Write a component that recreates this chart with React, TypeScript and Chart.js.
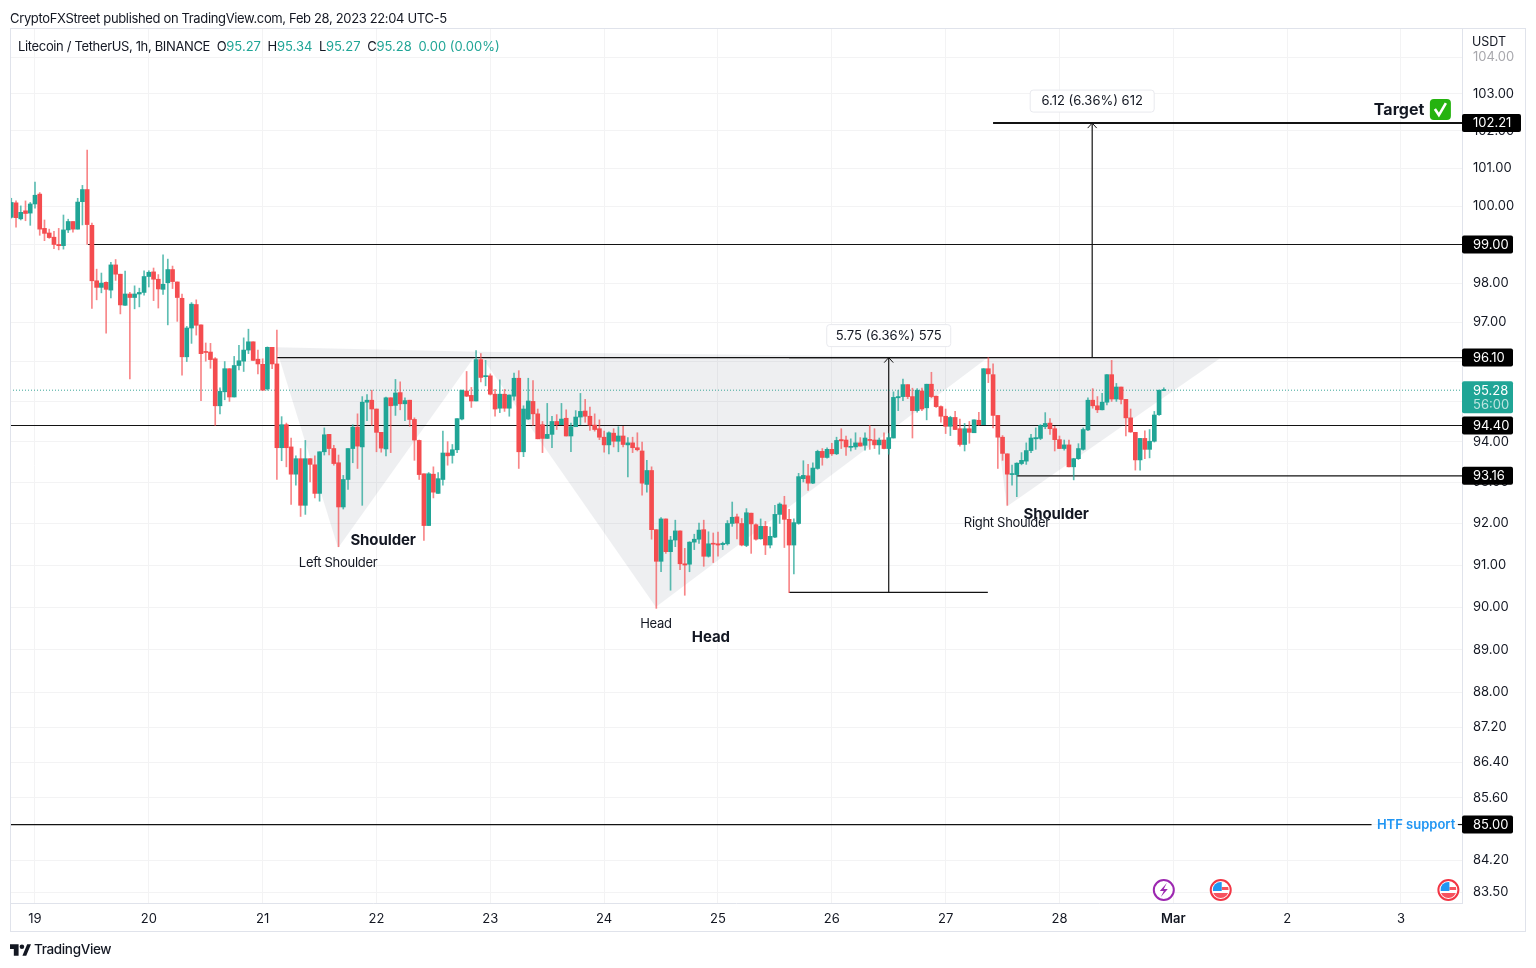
import { useEffect, useRef } from "react";
import Chart from "chart.js/auto";

const FONT = "Inter, 'Noto Sans', sans-serif";
const UP = "#20a596";
const DOWN = "#f44c4f";
const UP_WICK = "rgba(32,165,150,0.72)";
const DOWN_WICK = "rgba(244,76,79,0.68)";

// hourly candles, first one is 5h before Feb 19 00:00
const firstHour = -5;
const opens = [
  99.71, 100.09, 99.67, 99.88, 99.82, 100.06, 100.32, 99.42, 99.30, 99.19, 99.00, 98.97, 99.38, 99.60, 99.40, 100.12, 100.44, 99.50, 98.06, 97.89, 98.02, 97.82, 98.47, 98.23, 97.43, 97.72, 97.63, 97.72, 97.76, 98.17, 98.29, 98.10,
  97.84, 98.01, 98.35, 98.03, 97.61, 96.12, 96.85, 97.45, 96.93, 96.25, 96.24, 96.07, 94.89, 95.24, 95.82, 95.11, 95.90, 96.01, 96.29, 96.50, 96.06, 95.93, 95.31, 96.36, 95.94, 93.85, 94.42, 93.87, 93.20,
  93.58, 92.44, 93.58, 93.43, 92.73, 93.75, 94.18, 93.83, 93.48, 92.40, 93.07, 93.83, 94.36, 93.87, 94.98, 95.03, 94.81, 94.23, 93.82, 95.09, 94.90, 95.22, 94.94, 95.03, 94.55, 94.03, 93.21, 91.95, 93.20, 92.73,
  93.07, 93.72, 93.66, 93.80, 94.56, 95.26, 95.15, 95.01, 96.05, 95.62, 95.64, 95.18, 94.83, 95.18, 94.83, 95.13, 95.58, 93.75, 94.56, 95.00, 94.69, 94.42, 94.08, 94.18, 94.50, 94.42, 94.58, 94.14, 94.37, 94.61,
  94.76, 94.63, 94.41, 94.32, 94.11, 93.92, 94.21, 94.01, 94.14, 93.92, 93.97, 93.85, 93.77, 92.95, 93.29, 91.85, 91.09, 92.11, 91.32, 91.60, 91.82, 91.03, 91.02, 91.55, 91.62, 91.85, 91.21, 91.52, 91.51,
  91.49, 91.51, 92.00, 92.16, 92.00, 91.47, 92.25, 91.97, 91.63, 91.93, 91.48, 91.67, 92.22, 92.45, 92.10, 91.48, 92.00, 93.09, 93.16, 92.98, 93.34, 93.76, 93.61, 93.81, 93.70, 94.05, 94.04, 93.86, 93.87, 93.97,
  93.91, 94.05, 94.04, 93.92, 94.04, 93.83, 94.09, 95.09, 95.12, 95.42, 95.12, 94.77, 95.26, 94.84, 95.43, 95.13, 94.87, 94.63, 94.38, 94.60, 94.32, 93.93, 94.32, 94.22, 94.53, 94.42, 95.82, 95.67, 94.65, 94.11, 93.70,
  93.19, 93.19, 93.46, 93.52, 93.78, 94.07, 94.08, 94.37, 94.46, 94.32, 94.05, 93.83, 93.92, 93.38, 93.58, 93.81, 94.29, 95.03, 94.89, 94.79, 94.98, 95.67, 95.06, 95.36, 95.05, 94.59, 94.23, 93.55, 94.08, 93.81, 94.01, 94.67, 95.27,
];
const highs = [
  100.21, 100.14, 100.01, 100.14, 100.10, 100.64, 100.36, 99.64, 99.40, 99.34, 99.42, 99.77, 99.66, 99.60, 100.21, 100.55, 101.49, 99.56, 98.36, 98.26, 98.03, 98.54, 98.61, 98.23, 98.31, 97.76, 97.93, 97.87, 98.32, 98.32, 98.39, 98.22,
  98.73, 98.62, 98.44, 98.03, 97.72, 96.89, 97.50, 97.57, 96.93, 96.47, 96.46, 96.10, 95.34, 96.00, 95.82, 96.13, 96.41, 96.60, 96.82, 96.50, 96.29, 96.07, 96.37, 96.36, 96.80, 94.62, 94.46, 94.09, 93.65,
  93.83, 94.03, 93.58, 93.65, 93.75, 94.34, 94.18, 93.91, 93.67, 93.17, 93.83, 94.42, 94.69, 95.12, 95.17, 95.28, 94.81, 94.23, 95.11, 95.09, 95.55, 95.49, 95.09, 95.03, 94.59, 94.04, 93.21, 93.24, 93.38, 93.24,
  94.26, 94.00, 93.93, 94.57, 95.28, 95.75, 95.35, 96.28, 96.20, 96.03, 95.69, 95.30, 95.54, 95.30, 95.16, 95.71, 95.77, 94.89, 95.58, 95.52, 94.81, 94.50, 94.95, 94.63, 94.67, 94.95, 94.79, 94.46, 94.77, 95.20,
  95.05, 94.86, 94.69, 94.54, 94.26, 94.24, 94.32, 94.37, 94.38, 94.10, 94.11, 94.22, 93.99, 93.54, 93.38, 91.85, 92.14, 92.11, 91.69, 92.08, 91.82, 91.40, 91.56, 91.74, 92.01, 92.08, 91.80, 91.77, 91.79,
  91.55, 92.07, 92.52, 92.23, 92.12, 92.36, 92.25, 91.99, 92.11, 92.05, 91.91, 92.44, 92.50, 92.66, 92.34, 92.11, 93.22, 93.53, 93.44, 93.48, 93.79, 93.83, 93.85, 93.96, 94.11, 94.32, 94.14, 94.07, 94.22, 94.10,
  94.22, 94.40, 94.32, 94.09, 94.22, 94.20, 95.24, 95.28, 95.56, 95.42, 95.33, 95.32, 95.33, 95.43, 95.73, 95.13, 94.89, 94.81, 94.63, 94.75, 94.56, 94.45, 94.50, 94.54, 94.73, 95.82, 96.10, 95.94, 94.65, 94.15, 93.70,
  93.42, 93.48, 93.73, 93.97, 94.18, 94.34, 94.42, 94.72, 94.57, 94.38, 94.14, 94.04, 94.04, 93.59, 93.95, 94.34, 95.09, 95.32, 95.12, 95.20, 95.67, 96.03, 95.45, 95.36, 95.05, 94.81, 94.23, 94.08, 94.27, 94.30, 94.75, 95.28, 95.34,
];
const lows = [
  99.69, 99.45, 99.64, 99.62, 99.50, 99.95, 99.24, 99.10, 99.16, 98.89, 98.86, 98.88, 99.31, 99.32, 99.40, 99.51, 99.00, 97.35, 97.57, 97.75, 96.72, 97.62, 98.07, 97.21, 97.43, 95.56, 97.34, 97.39, 97.69, 97.90, 97.55, 97.36,
  97.71, 96.93, 97.86, 97.02, 95.66, 96.00, 96.46, 96.67, 95.02, 96.01, 95.83, 94.40, 94.69, 95.04, 95.00, 95.11, 95.79, 95.75, 96.20, 96.03, 95.69, 95.28, 95.28, 95.82, 93.07, 93.53, 93.38, 92.46, 92.93,
  92.17, 92.22, 93.01, 92.62, 92.54, 93.67, 93.67, 93.42, 91.44, 92.35, 92.83, 93.48, 93.34, 92.44, 94.52, 94.40, 93.75, 93.74, 93.65, 93.73, 94.65, 94.79, 94.52, 94.38, 93.54, 93.07, 91.59, 91.95, 92.62, 92.73,
  92.93, 93.42, 93.47, 93.73, 94.54, 95.12, 94.85, 95.01, 95.49, 95.39, 95.16, 94.63, 94.72, 94.75, 94.63, 95.03, 93.34, 93.63, 94.55, 94.40, 94.07, 93.73, 94.08, 93.85, 94.30, 94.42, 94.14, 93.75, 94.37, 94.42,
  94.48, 94.28, 94.26, 94.05, 93.74, 93.70, 93.87, 93.75, 93.87, 93.13, 93.73, 93.77, 92.69, 92.76, 91.62, 89.97, 90.84, 91.28, 90.40, 91.44, 90.89, 90.28, 90.84, 91.37, 91.52, 90.97, 91.19, 91.06, 91.21,
  91.37, 91.48, 91.93, 91.63, 91.46, 91.44, 91.28, 91.60, 91.62, 91.25, 91.41, 91.66, 92.00, 91.42, 90.34, 90.79, 91.98, 93.01, 92.80, 92.97, 93.32, 93.42, 93.59, 93.66, 93.68, 93.83, 93.66, 93.77, 93.81, 93.89,
  93.79, 93.81, 93.83, 93.69, 93.82, 93.69, 94.09, 94.77, 95.02, 95.07, 94.09, 94.73, 94.77, 94.54, 95.09, 94.85, 94.48, 94.20, 94.15, 94.30, 93.89, 93.77, 93.96, 94.22, 94.40, 94.42, 95.47, 94.34, 93.34, 93.54, 92.44,
  92.93, 92.65, 93.43, 93.44, 93.73, 93.81, 94.05, 94.32, 94.18, 93.77, 93.83, 93.79, 93.38, 93.06, 93.56, 93.79, 94.27, 94.83, 94.72, 94.79, 94.91, 95.00, 95.00, 94.94, 94.14, 94.23, 93.30, 93.30, 93.58, 93.60, 93.99, 94.65, 95.27,
];
const closes = [
  100.10, 99.70, 99.84, 99.81, 100.06, 100.29, 99.40, 99.29, 99.18, 99.00, 98.97, 99.38, 99.60, 99.40, 100.11, 100.44, 99.52, 98.06, 97.89, 98.00, 97.84, 98.47, 98.23, 97.44, 97.72, 97.63, 97.72, 97.76, 98.17, 98.28, 98.10, 97.85,
  97.97, 98.35, 98.04, 97.63, 96.12, 96.85, 97.46, 96.92, 96.20, 96.23, 96.05, 94.89, 95.25, 95.82, 95.11, 95.90, 96.02, 96.29, 96.50, 96.03, 95.94, 95.28, 96.36, 95.94, 93.85, 94.42, 93.85, 93.20, 93.58,
  92.44, 93.58, 93.44, 92.73, 93.75, 94.17, 93.83, 93.46, 92.40, 93.07, 93.83, 94.36, 93.89, 94.98, 95.03, 94.81, 94.23, 93.84, 95.09, 94.89, 95.21, 94.94, 95.02, 94.55, 94.04, 93.19, 91.95, 93.21, 92.76, 93.09,
  93.72, 93.65, 93.80, 94.57, 95.28, 95.13, 95.01, 96.05, 95.60, 95.64, 95.18, 94.81, 95.18, 94.83, 95.16, 95.58, 93.75, 94.81, 95.01, 94.69, 94.07, 94.08, 94.18, 94.50, 94.42, 94.56, 94.14, 94.37, 94.61, 94.75,
  94.63, 94.41, 94.30, 94.11, 93.92, 94.22, 94.01, 94.14, 93.93, 93.97, 93.85, 93.80, 92.98, 93.29, 91.85, 91.09, 92.11, 91.32, 91.60, 91.82, 91.03, 91.00, 91.55, 91.62, 91.84, 91.21, 91.51, 91.50, 91.48,
  91.52, 92.00, 92.15, 92.01, 91.48, 92.26, 91.99, 91.62, 91.93, 91.48, 91.69, 92.22, 92.47, 92.10, 91.48, 92.02, 93.14, 93.17, 92.98, 93.35, 93.76, 93.61, 93.81, 93.70, 94.03, 94.02, 93.87, 93.88, 93.97, 93.89,
  94.09, 94.03, 93.92, 94.04, 93.83, 94.10, 95.10, 95.12, 95.42, 95.12, 94.77, 95.28, 94.81, 95.43, 95.12, 94.87, 94.63, 94.38, 94.60, 94.30, 93.93, 94.32, 94.23, 94.54, 94.42, 95.82, 95.69, 94.65, 94.11, 93.71, 93.20,
  93.21, 93.47, 93.54, 93.78, 94.09, 94.10, 94.40, 94.45, 94.32, 94.05, 93.83, 93.92, 93.38, 93.58, 93.83, 94.30, 95.03, 94.89, 94.79, 94.98, 95.67, 95.06, 95.36, 95.05, 94.59, 94.24, 93.55, 94.08, 93.81, 94.01, 94.66, 95.28, 95.28,
];

// axes
const priceTicks = [104, 103, 102, 101, 100, 99, 98, 97, 96, 95, 94, 93, 92, 91, 90, 89, 88, 87.2, 86.4, 85.6, 85, 84.2, 83.5];
const dayTicks = [0, 24, 48, 72, 96, 120, 144, 168, 192, 216, 240, 264, 288];
const dayLabels = ["19", "20", "21", "22", "23", "24", "25", "26", "27", "28", "Mar", "2", "3"];
const xMin = -5.27;
const xMax = 300.87;
const yMin = 83.265;
const yMax = 104.797;

// drawings: horizontal levels and their price tags
const levelPrices = [102.21, 99, 96.1, 94.4, 93.16, 85];
const levelStarts = [202, 11.2, 51, xMin, 207, xMin];
const levelEnds = [xMax, xMax, xMax, xMax, xMax, 281.8];
const levelWidths = [2, 1.2, 1.2, 1.2, 1.2, 1.2];
const lastPrice = 95.28;

// triangles of the head and shoulders
const leftShoulder = [[50.8, 96.36], [63.9, 91.41], [93.4, 96.25]];
const headShape = [[93.4, 96.25], [130.9, 90], [200.9, 96.1]];
const rightShoulder = [[200.9, 96.1], [204.9, 92.41], [249.8, 96.08]];

// measure tools: hour of arrow, from price, to price, label, extent of base
const rangeHours = [180, 222.9];
const rangeFrom = [90.35, 96.09];
const rangeTo = [96.1, 102.21];
const rangeLabels = ["5.75 (6.36%) 575", "6.12 (6.36%) 612"];
const eventHours = [238, 250, 298];

const notes: [string, number, number, boolean][] = [
  ["Left Shoulder", 63.9, 91.04, false],
  ["Shoulder", 73.4, 91.58, true],
  ["Head", 130.9, 89.6, false],
  ["Head", 142.5, 89.28, true],
  ["Right Shoulder", 204.9, 92.0, false],
  ["Shoulder", 215.3, 92.22, true],
];

const hours = opens.map((_, i) => firstHour + i);
const candleColors = opens.map((o, i) => (closes[i] >= o ? UP : DOWN));
const wickColors = opens.map((o, i) => (closes[i] >= o ? UP_WICK : DOWN_WICK));

const toPoints = (pts: number[][]) => pts.map(([x, y]) => ({ x, y }));

function lineSet(data: { x: number; y: number }[], width: number, extra: object = {}) {
  return {
    type: "line",
    data,
    borderColor: "#131313",
    borderWidth: width,
    pointRadius: 0,
    fill: false,
    tension: 0,
    order: 5,
    ...extra,
  };
}

function triangleSet(pts: number[][]) {
  return {
    type: "line",
    data: toPoints([...pts, pts[0]]),
    borderWidth: 0,
    borderColor: "transparent",
    backgroundColor: "rgba(120,130,150,0.13)",
    pointRadius: 0,
    fill: "shape",
    tension: 0,
    order: 10,
  };
}

function roundBox(ctx: CanvasRenderingContext2D, x: number, y: number, w: number, h: number, r: number) {
  ctx.beginPath();
  ctx.roundRect(x, y, w, h, r);
  ctx.fill();
}

const overlay = {
  id: "overlay",
  afterDraw(chart: any) {
    const { ctx, scales, chartArea } = chart;
    const px = (h: number) => scales.x.getPixelForValue(h);
    const py = (p: number) => scales.y.getPixelForValue(p);
    ctx.save();

    // outer frame
    ctx.strokeStyle = "#e0e3eb";
    ctx.lineWidth = 1;
    ctx.strokeRect(10.5, 28.5, 1515, 903);

    // notes on the pattern
    ctx.textAlign = "center";
    ctx.textBaseline = "middle";
    notes.forEach(([text, h, p, bold]) => {
      ctx.font = bold ? `700 15px ${FONT}` : `400 13px ${FONT}`;
      ctx.letterSpacing = bold ? "-0.1px" : "-0.3px";
      ctx.fillStyle = "#131722";
      ctx.fillText(text, px(h), py(p));
    });
    ctx.letterSpacing = "0px";

    // measure tools
    rangeHours.forEach((h, i) => {
      const x = px(h);
      const top = py(rangeTo[i]);
      ctx.strokeStyle = "#131313";
      ctx.lineWidth = 1;
      ctx.beginPath();
      ctx.moveTo(x - 4.5, top + 5);
      ctx.lineTo(x, top);
      ctx.lineTo(x + 4.5, top + 5);
      ctx.stroke();
      ctx.fillStyle = "#fff";
      ctx.strokeStyle = "#e8e9ee";
      ctx.beginPath();
      ctx.roundRect(x - 62, top - 33, 124, 22, 3);
      ctx.fill();
      ctx.stroke();
      ctx.fillStyle = "#131722";
      ctx.font = `400 13px ${FONT}`;
      ctx.fillText(rangeLabels[i], x, top - 22);
    });

    // Target with check mark
    const ty = py(102.56);
    ctx.fillStyle = "#131722";
    ctx.font = `700 16px ${FONT}`;
    ctx.fillText("Target", px(287.6), ty + 0.5);
    const bx = px(294.1);
    ctx.fillStyle = "#25b30f";
    roundBox(ctx, bx, ty - 11, 21, 21, 4);
    ctx.strokeStyle = "#fff";
    ctx.lineWidth = 2.6;
    ctx.beginPath();
    ctx.moveTo(bx + 5, ty - 1);
    ctx.lineTo(bx + 9, ty + 5);
    ctx.lineTo(bx + 16, ty - 7);
    ctx.stroke();

    ctx.fillStyle = "#2196f3";
    ctx.font = `600 13px ${FONT}`;
    ctx.fillText("HTF support", px(291.2), py(85) + 1);

    // event badges
    const ey = chartArea.bottom - 13;
    eventHours.forEach((h, i) => {
      const x = px(h);
      ctx.lineWidth = 2;
      ctx.fillStyle = "#fff";
      ctx.strokeStyle = i === 0 ? "#9c27b0" : "#f23645";
      ctx.beginPath();
      ctx.arc(x, ey, 10, 0, Math.PI * 2);
      ctx.fill();
      ctx.stroke();
      if (i === 0) {
        ctx.fillStyle = "#9c27b0";
        ctx.beginPath();
        ctx.moveTo(x + 3, ey - 7);
        ctx.lineTo(x - 4, ey + 1);
        ctx.lineTo(x, ey + 1);
        ctx.lineTo(x - 3, ey + 7);
        ctx.lineTo(x + 4, ey - 1);
        ctx.lineTo(x, ey - 1);
        ctx.closePath();
        ctx.fill();
      } else {
        ctx.save();
        ctx.beginPath();
        ctx.arc(x, ey, 8, 0, Math.PI * 2);
        ctx.clip();
        ctx.fillStyle = "#f7525f";
        ctx.fillRect(x - 8, ey + 3, 16, 5);
        ctx.fillRect(x + 1, ey - 3, 7, 3);
        ctx.fillStyle = "#2196f3";
        ctx.fillRect(x - 8, ey - 8, 9, 9);
        ctx.restore();
      }
    });

    // price tags on the axis
    const tagX = chartArea.right;
    ctx.font = `400 13px ${FONT}`;
    ctx.textAlign = "left";
    levelPrices.forEach((p, i) => {
      const y = py(p);
      const w = i === 0 ? 59 : 51;
      ctx.fillStyle = "#000";
      roundBox(ctx, tagX, y - 9, w, 18, 2);
      ctx.fillStyle = "#fff";
      ctx.fillText(p.toFixed(2), tagX + 11, y + 0.5);
    });
    const ly = py(lastPrice);
    ctx.fillStyle = UP;
    roundBox(ctx, tagX, ly - 9, 51, 32, 2);
    ctx.fillStyle = "#fff";
    ctx.fillText(lastPrice.toFixed(2), tagX + 11, ly + 0.5);
    ctx.fillStyle = "rgba(255,255,255,0.7)";
    ctx.fillText("56:00", tagX + 11, ly + 14.5);

    // axis unit sits over the first tick
    ctx.fillStyle = "#131722";
    ctx.font = `400 12.5px ${FONT}`;
    ctx.fillText("USDT", tagX + 10, 42);
    ctx.restore();
  },
};

export default function App() {
  const canvasRef = useRef<HTMLCanvasElement>(null);

  useEffect(() => {
    document.body.style.margin = "0";
    if (!canvasRef.current) return;

    const datasets: any[] = [
      triangleSet(leftShoulder),
      triangleSet(headShape),
      triangleSet(rightShoulder),
      ...levelPrices.map((p, i) =>
        lineSet(toPoints([[levelStarts[i], p], [levelEnds[i], p]]), levelWidths[i])
      ),
      lineSet(toPoints([[300, 85], [xMax, 85]]), 1.2),
      lineSet(toPoints([[xMin, lastPrice], [xMax, lastPrice]]), 1, { borderColor: "#3aa598", borderDash: [1, 2] }),
      ...rangeHours.map((h, i) => lineSet(toPoints([[h, rangeFrom[i]], [h, rangeTo[i]]]), 1.2)),
      lineSet(toPoints([[159, 96.1], [200.9, 96.1]]), 1.2),
      lineSet(toPoints([[159, 90.35], [200.9, 90.35]]), 1.2),
      {
        type: "bar",
        data: hours.map((x, i) => ({ x, y: [lows[i], highs[i]] })),
        backgroundColor: wickColors,
        barThickness: 1,
        grouped: false,
        order: 2,
      },
      {
        type: "bar",
        data: hours.map((x, i) => ({ x, y: [opens[i], closes[i]] })),
        backgroundColor: candleColors,
        barThickness: 4,
        minBarLength: 1,
        grouped: false,
        order: 1,
      },
    ];

    const chart = new Chart(canvasRef.current, {
      type: "bar",
      data: { datasets },
      plugins: [overlay],
      options: {
        responsive: false,
        animation: false,
        events: [],
        layout: { padding: { left: 10, right: 10, top: 28, bottom: 37 } },
        plugins: { legend: { display: false }, tooltip: { enabled: false } },
        scales: {
          x: {
            type: "linear",
            offset: false,
            min: xMin,
            max: xMax,
            afterBuildTicks: (s: any) => {
              s.ticks = dayTicks.map((value) => ({ value }));
            },
            afterFit: (s: any) => {
              s.height = 28;
            },
            grid: { color: "#f3f3f4", offset: false, drawTicks: false },
            border: { color: "#e0e3eb" },
            ticks: {
              autoSkip: false,
              maxRotation: 0,
              padding: 8,
              color: "#131722",
              font: (c: any) => ({ family: FONT, size: 13, weight: c.index === 10 ? "600" : "400" }),
              callback: (_v: any, i: number) => dayLabels[i],
            },
          },
          y: {
            type: "logarithmic",
            position: "right",
            min: yMin,
            max: yMax,
            afterBuildTicks: (s: any) => {
              s.ticks = priceTicks.map((value) => ({ value }));
            },
            afterFit: (s: any) => {
              s.width = 64;
            },
            grid: { color: "#f3f3f4", drawTicks: false },
            border: { color: "#e0e3eb" },
            ticks: {
              autoSkip: false,
              padding: 11,
              color: (c: any) => (c.index === 0 ? "#a8a8ad" : "#131722"),
              font: { family: FONT, size: 13 },
              callback: (v: any) => Number(v).toFixed(2),
            },
          },
        },
      },
    } as any);

    return () => chart.destroy();
  }, []);

  const base: React.CSSProperties = { position: "absolute", fontFamily: FONT, fontSize: 13, letterSpacing: "-0.35px", color: "#131722", whiteSpace: "pre" };
  const val = { color: UP, letterSpacing: "0px" };

  return (
    <div style={{ position: "relative", width: 1536, height: 968, background: "#fff", overflow: "hidden" }}>
      <canvas ref={canvasRef} width={1536} height={968} style={{ position: "absolute", left: 0, top: 0 }} />
      <div style={{ ...base, left: 10, top: 10 }}>CryptoFXStreet published on TradingView.com, Feb 28, 2023 22:04 UTC-5</div>
      <div style={{ ...base, left: 18, top: 38 }}>
        Litecoin / TetherUS, 1h, BINANCE{"  "}O<span style={val}>95.27</span>{"  "}H<span style={val}>95.34</span>{"  "}L
        <span style={val}>95.27</span>{"  "}C<span style={val}>95.28</span>{"  "}<span style={val}>0.00 (0.00%)</span>
      </div>
      <svg style={{ position: "absolute", left: 10, top: 944 }} width="21" height="12" viewBox="0 0 22 12">
        <path d="M0 0h9v12H4V5H0z M13 12l5-12h4l-5 12z" fill="#131722" />
        <circle cx="12.5" cy="2.6" r="2.4" fill="#131722" />
      </svg>
      <div style={{ ...base, left: 34, top: 941, fontSize: 13.5, fontWeight: 500 }}>TradingView</div>
    </div>
  );
}
